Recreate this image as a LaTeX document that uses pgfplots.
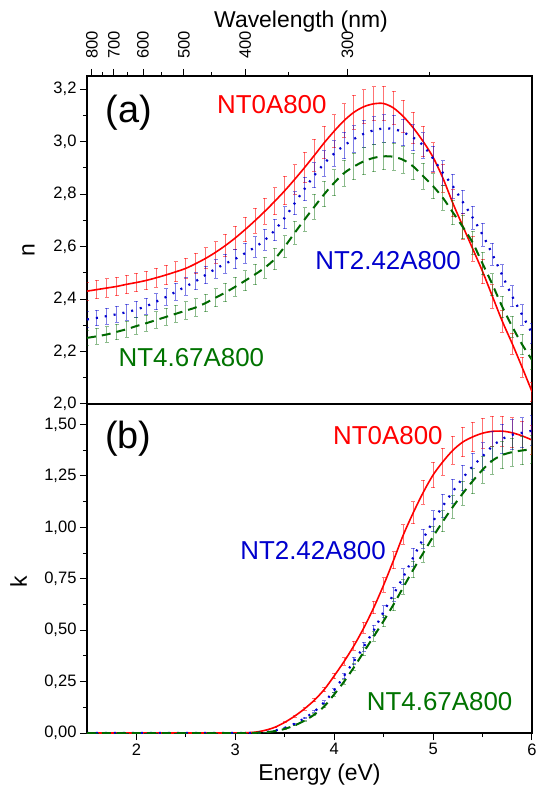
\documentclass[border=0pt]{standalone}
\usepackage{pgfplots}
\usepackage{pgfplotstable}
\pgfplotsset{compat=1.18}
\usepackage{fontspec}
\setmainfont{Liberation Sans}

\definecolor{cred}{RGB}{255,0,0}
\definecolor{cblue}{RGB}{0,0,205}
\definecolor{cgreen}{RGB}{0,105,0}
\definecolor{tgreen}{RGB}{0,115,0}

\pgfplotstableread{
E    nr     er     nb     eb     ng     eg
1.5  2.430  0.035  2.322  0.030  2.252  0.030
1.6  2.436  0.035  2.328  0.030  2.258  0.030
1.7  2.442  0.035  2.335  0.030  2.265  0.030
1.8  2.448  0.035  2.342  0.030  2.275  0.030
1.9  2.456  0.035  2.350  0.030  2.285  0.030
2.0  2.463  0.036  2.360  0.031  2.297  0.031
2.1  2.471  0.036  2.373  0.031  2.308  0.031
2.2  2.481  0.037  2.390  0.031  2.320  0.031
2.3  2.492  0.037  2.408  0.032  2.332  0.032
2.4  2.504  0.038  2.428  0.032  2.344  0.032
2.5  2.517  0.038  2.448  0.033  2.356  0.033
2.6  2.535  0.039  2.468  0.033  2.368  0.033
2.7  2.555  0.040  2.492  0.034  2.385  0.034
2.8  2.578  0.041  2.515  0.035  2.405  0.035
2.9  2.604  0.042  2.535  0.036  2.425  0.036
3.0  2.633  0.044  2.553  0.037  2.447  0.037
3.1  2.665  0.046  2.575  0.038  2.470  0.038
3.2  2.699  0.048  2.598  0.039  2.494  0.039
3.3  2.735  0.050  2.625  0.040  2.520  0.040
3.4  2.773  0.052  2.663  0.041  2.553  0.041
3.5  2.813  0.054  2.710  0.042  2.600  0.042
3.6  2.856  0.056  2.765  0.044  2.652  0.044
3.7  2.901  0.058  2.820  0.045  2.703  0.045
3.8  2.948  0.060  2.872  0.047  2.752  0.047
3.9  2.996  0.062  2.917  0.048  2.800  0.048
4.0  3.040  0.063  2.955  0.049  2.843  0.049
4.1  3.080  0.064  2.985  0.050  2.880  0.050
4.2  3.112  0.065  3.010  0.051  2.905  0.051
4.3  3.133  0.065  3.030  0.052  2.925  0.052
4.4  3.144  0.065  3.043  0.052  2.938  0.052
4.5  3.145  0.065  3.050  0.052  2.944  0.052
4.6  3.128  0.064  3.048  0.052  2.942  0.052
4.7  3.095  0.062  3.035  0.051  2.930  0.051
4.8  3.052  0.060  3.015  0.050  2.905  0.050
4.9  3.000  0.058  2.985  0.049  2.868  0.049
5.0  2.940  0.056  2.935  0.048  2.830  0.048
5.1  2.860  0.054  2.880  0.047  2.785  0.047
5.2  2.765  0.052  2.830  0.046  2.730  0.046
5.3  2.678  0.050  2.770  0.045  2.675  0.045
5.4  2.592  0.048  2.710  0.044  2.615  0.044
5.5  2.505  0.046  2.645  0.043  2.535  0.043
5.6  2.410  0.044  2.570  0.042  2.455  0.042
5.7  2.315  0.042  2.490  0.041  2.370  0.041
5.8  2.230  0.040  2.410  0.040  2.295  0.040
5.9  2.140  0.038  2.340  0.039  2.227  0.039
6.0  2.047  0.036  2.270  0.038  2.168  0.038
}\ndata

\pgfplotstableread{
E    kr     kb     kg
1.5  0      0      0
1.6  0      0      0
1.7  0      0      0
1.8  0      0      0
1.9  0      0      0
2.0  0      0      0
2.1  0      0      0
2.2  0      0      0
2.3  0      0      0
2.4  0      0      0
2.5  0      0      0
2.6  0      0      0
2.7  0      0      0
2.8  0      0      0
2.9  0      0      0
3.0  0      0      0
3.1  0.001  0      0
3.2  0.004  0.001  0.001
3.3  0.013  0.004  0.003
3.4  0.028  0.012  0.009
3.5  0.052  0.025  0.020
3.6  0.082  0.045  0.037
3.7  0.118  0.072  0.060
3.8  0.160  0.105  0.090
3.9  0.212  0.150  0.130
4.0  0.278  0.208  0.188
4.1  0.348  0.278  0.250
4.2  0.425  0.350  0.320
4.3  0.512  0.420  0.395
4.4  0.610  0.500  0.470
4.5  0.720  0.590  0.545
4.6  0.840  0.675  0.625
4.7  0.965  0.760  0.710
4.8  1.072  0.855  0.795
4.9  1.170  0.945  0.875
5.0  1.255  1.030  0.955
5.1  1.320  1.105  1.030
5.2  1.375  1.175  1.100
5.3  1.415  1.240  1.165
5.4  1.440  1.297  1.225
5.5  1.458  1.345  1.280
5.6  1.467  1.395  1.325
5.7  1.468  1.430  1.352
5.8  1.460  1.450  1.366
5.9  1.445  1.460  1.374
6.0  1.425  1.470  1.380
}\kdata

\pgfplotsset{
  common/.style={
    scale only axis, width=445bp,
    xmin=1.5, xmax=6,
    axis line style={line width=1.2bp},
    every tick/.style={black, line width=1bp},
    tick align=outside,
    major tick length=7bp, minor tick length=4bp,
    ticklabel style={font=\fontsize{16.6}{19}\selectfont},
    label style={font=\fontsize{23}{26}\selectfont},
    /pgf/number format/assume math mode=true,
    ytick pos=left,
  },
  ebred/.style={error bars/y dir=both,
    error bars/error bar style={cred, opacity=0.55, line width=1bp, solid},
    error bars/error mark options={rotate=90, cred, opacity=0.55, mark size=2bp, line width=0.9bp, solid}},
  ebblue/.style={error bars/y dir=both,
    error bars/error bar style={cblue, opacity=0.5, line width=1bp, solid},
    error bars/error mark options={rotate=90, cblue, opacity=0.5, mark size=2bp, line width=0.9bp, solid}},
  ebgreen/.style={error bars/y dir=both,
    error bars/error bar style={cgreen, opacity=0.45, line width=1bp, solid},
    error bars/error mark options={rotate=90, cgreen, opacity=0.45, mark size=2bp, line width=0.9bp, solid}},
}

\begin{document}
\begin{tikzpicture}
% ---------- bottom panel (k) ----------
\begin{axis}[common, name=bot, at={(0,0)}, anchor=south west,
  height=329bp,
  ymin=0, ymax=1.6,
  ytick={0,0.25,0.5,0.75,1,1.25,1.5},
  minor y tick num=1,
  xtick={2,3,4,5,6},
  minor xtick={2.5,3.5,4.5,5.5},
  xtick pos=lower,
  yticklabel style={/pgf/number format/.cd, fixed, fixed zerofill, precision=2, use comma},
  xlabel={Energy (eV)},
  ylabel={k},
  xlabel style={at={(axis description cs:0.5225,-0.1429)}, anchor=base},
  ylabel style={at={(axis description cs:-0.154,0.46)}, anchor=center},
]
\addplot[cred, line width=1.6bp, smooth, ebred, error bars/y fixed relative=0.05] table[x=E, y=kr] {\kdata};
\addplot[cblue, line width=2.2bp, dash pattern=on 2bp off 7bp, smooth, ebblue, error bars/y fixed relative=0.05] table[x=E, y=kb] {\kdata};
\addplot[cgreen, line width=2bp, dash pattern=on 9bp off 6bp, smooth, ebgreen, error bars/y fixed relative=0.05] table[x=E, y=kg] {\kdata};
\node[font=\fontsize{38}{40}\selectfont] at (axis cs:1.918,1.432) {(b)};
\node[font=\fontsize{26}{28}\selectfont, text=cred] at (axis cs:4.543,1.448) {NT0A800};
\node[font=\fontsize{26}{28}\selectfont, text=cblue] at (axis cs:3.786,0.889) {NT2.42A800};
\node[font=\fontsize{26}{28}\selectfont, text=tgreen] at (axis cs:5.066,0.152) {NT4.67A800};
\coordinate (BL) at (rel axis cs:0,0);
\end{axis}
% ---------- top panel (n) ----------
\begin{axis}[common, name=top, at={(0,329bp)}, anchor=south west,
  height=328bp,
  ymin=2.0, ymax=3.25,
  ytick={2.0,2.2,2.4,2.6,2.8,3.0,3.2},
  minor y tick num=1,
  yticklabel style={/pgf/number format/.cd, fixed, fixed zerofill, precision=1, use comma},
  xtick={1.5498,1.7712,2.0664,2.47968,3.0996,4.1328},
  xticklabels={800,700,600,500,400,300},
  minor xtick={1.65312,1.90745,2.25425,2.7552,3.5424,4.95936},
  xtick pos=upper, xticklabel pos=upper,
  xticklabel style={yshift=10bp, rotate=90, anchor=west, inner sep=0pt},
  xlabel={Wavelength (nm)},
  ylabel={n},
  xlabel style={at={(axis description cs:0.481,1.1485)}, anchor=base},
  ylabel style={at={(axis description cs:-0.1315,0.4695)}, anchor=center},
]
\addplot[cred, line width=1.6bp, smooth, ebred, error bars/y explicit] table[x=E, y=nr, y error=er] {\ndata};
\addplot[cblue, line width=2.2bp, dash pattern=on 2bp off 7bp, smooth, ebblue, error bars/y explicit] table[x=E, y=nb, y error=eb] {\ndata};
\addplot[cgreen, line width=2bp, dash pattern=on 9bp off 6bp, smooth, ebgreen, error bars/y explicit] table[x=E, y=ng, y error=eg] {\ndata};
\node[font=\fontsize{38}{40}\selectfont] at (axis cs:1.924,3.109) {(a)};
\node[font=\fontsize{26}{28}\selectfont, text=cred] at (axis cs:3.369,3.140) {NT0A800};
\node[font=\fontsize{26}{28}\selectfont, text=cblue] at (axis cs:4.545,2.547) {NT2.42A800};
\node[font=\fontsize{26}{28}\selectfont, text=tgreen] at (axis cs:2.556,2.176) {NT4.67A800};
\coordinate (TR) at (rel axis cs:1,1);
\end{axis}
\pgfresetboundingbox
\path[use as bounding box] ([xshift=-87bp,yshift=-58bp]BL) rectangle ([xshift=4bp,yshift=76bp]TR);
\end{tikzpicture}
\end{document}
